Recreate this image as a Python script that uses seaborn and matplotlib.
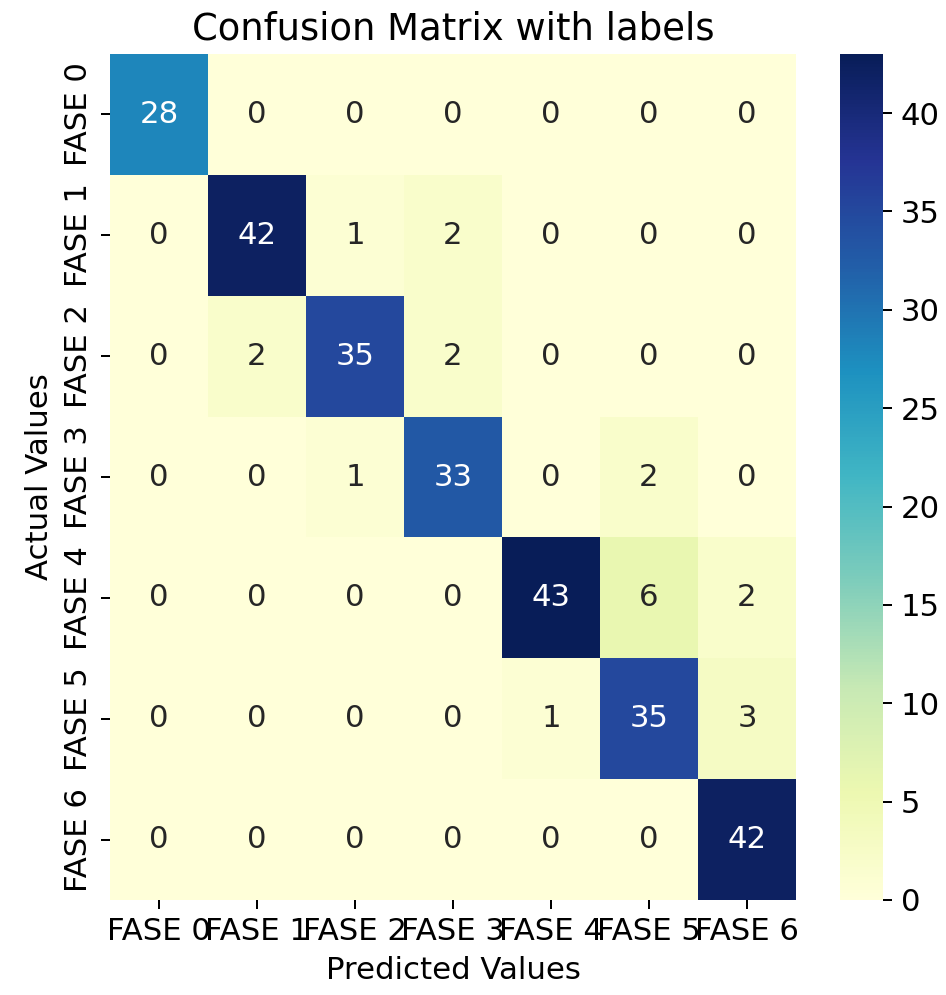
import numpy as np
import matplotlib
matplotlib.use('Agg')
import matplotlib.pyplot as plt
import seaborn as sns

# Class labels and confusion matrix values
labels = ['FASE 0', 'FASE 1', 'FASE 2', 'FASE 3', 'FASE 4', 'FASE 5', 'FASE 6']
row_fase0 = [28, 0, 0, 0, 0, 0, 0]
row_fase1 = [0, 42, 1, 2, 0, 0, 0]
row_fase2 = [0, 2, 35, 2, 0, 0, 0]
row_fase3 = [0, 0, 1, 33, 0, 2, 0]
row_fase4 = [0, 0, 0, 0, 43, 6, 2]
row_fase5 = [0, 0, 0, 0, 1, 35, 3]
row_fase6 = [0, 0, 0, 0, 0, 0, 42]

cf_matrix = np.array([row_fase0, row_fase1, row_fase2, row_fase3,
                      row_fase4, row_fase5, row_fase6])

plt.rcParams['font.size'] = 12.3

fig = plt.figure(figsize=(946 / 180, 995 / 180), dpi=180)
ax = fig.add_axes([0.1163, 0.0955, 0.7251, 0.8502])
cax = fig.add_axes([0.888, 0.0955, 0.0455, 0.8502])

sns.heatmap(cf_matrix, annot=True, fmt='d', cmap='YlGnBu', ax=ax, cbar_ax=cax,
            xticklabels=labels, yticklabels=labels)

ax.set_title('Confusion Matrix with labels')
ax.set_xlabel('Predicted Values')
ax.set_ylabel('Actual Values')
plt.setp(ax.get_xticklabels(), rotation=0)
plt.setp(ax.get_yticklabels(), rotation=90, va='center')

fig.savefig('out.png', dpi=180)
